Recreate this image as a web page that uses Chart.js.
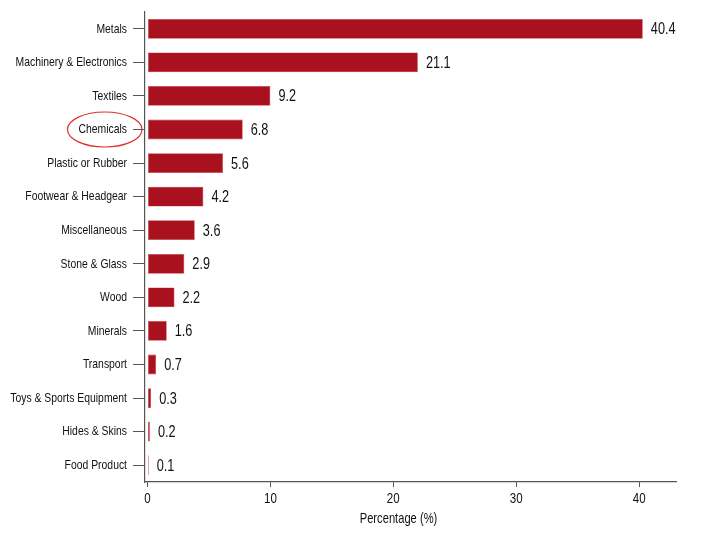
<!DOCTYPE html>
<html>
<head>
<meta charset="utf-8">
<script src="https://cdn.jsdelivr.net/npm/chart.js@4.4.0/dist/chart.umd.min.js"></script>
<style>
  html, body { margin: 0; padding: 0; background: #fff; }
  #wrap { width: 704px; height: 535px; }
</style>
</head>
<body>
<div id="wrap"><canvas id="chart"></canvas></div>
<script>
// Data
const categories = [
  'Metals', 'Machinery & Electronics', 'Textiles', 'Chemicals',
  'Plastic or Rubber', 'Footwear & Headgear', 'Miscellaneous',
  'Stone & Glass', 'Wood', 'Minerals', 'Transport',
  'Toys & Sports Equipment', 'Hides & Skins', 'Food Product'
];
// numbers printed next to the bars
const shares = [40.4, 21.1, 9.2, 6.8, 5.6, 4.2, 3.6, 2.9, 2.2, 1.6, 0.7, 0.3, 0.2, 0.1];
// bar lengths as drawn (several bars run a bit past their printed number)
const barLengths = [40.3, 22.0, 10.0, 7.75, 6.15, 4.55, 3.85, 3.0, 2.2, 1.57, 0.71, 0.3, 0.2, 0.1];
const xTicks = [0, 10, 20, 30, 40];
const xTitle = 'Percentage (%)';
const circled = 'Chemicals';

const FONT = "'Liberation Sans', Arial, sans-serif";
const SX = 0.77; // narrow look of the original lettering
const BAR = '#a8111d';

// draw text squeezed horizontally
function narrowText(ctx, text, x, y, align, size) {
  ctx.save();
  ctx.font = size + 'px ' + FONT;
  ctx.fillStyle = '#111';
  ctx.textBaseline = 'middle';
  ctx.textAlign = align;
  ctx.translate(x, y);
  ctx.scale(SX, 1);
  ctx.fillText(text, 0, 0);
  ctx.restore();
}

// all the lettering: category labels, x tick labels, axis title, bar values
const lettering = {
  id: 'lettering',
  afterDraw(chart) {
    const ctx = chart.ctx;
    const xs = chart.scales.x, ys = chart.scales.y;
    categories.forEach((c, i) => {
      narrowText(ctx, c, ys.right - 18, ys.getPixelForValue(i), 'right', 13.5);
    });
    xTicks.forEach(v => {
      narrowText(ctx, String(v), xs.getPixelForValue(v), xs.top + 17, 'center', 15);
    });
    narrowText(ctx, xTitle, (xs.left + xs.right) / 2 - 12, xs.top + 37, 'center', 14.5);
    const meta = chart.getDatasetMeta(0);
    meta.data.forEach((bar, i) => {
      narrowText(ctx, shares[i].toFixed(1), bar.x + 8, bar.y + 1, 'left', 16.5);
    });

    // red ring round one category label
    const idx = categories.indexOf(circled);
    const cy = ys.getPixelForValue(idx);
    ctx.save();
    ctx.font = '13.5px ' + FONT;
    const w = ctx.measureText(circled).width * SX;
    const cx = ys.right - 18 - w / 2 + 2;
    ctx.strokeStyle = '#e0302a';
    ctx.lineWidth = 1.2;
    ctx.beginPath();
    ctx.ellipse(cx, cy, w / 2 + 13, 17.5, 0, 0, Math.PI * 2);
    ctx.stroke();
    ctx.restore();
  }
};

new Chart(document.getElementById('chart'), {
  type: 'bar',
  data: {
    labels: categories,
    datasets: [{
      data: barLengths,
      backgroundColor: BAR,
      borderColor: '#c9404a',
      borderWidth: 0.6,
      borderSkipped: false,
      barPercentage: 0.59,
      categoryPercentage: 1
    }]
  },
  options: {
    indexAxis: 'y',
    responsive: true,
    maintainAspectRatio: false,
    animation: false,
    layout: { padding: { top: 12, right: 28, left: 0, bottom: 0 } },
    plugins: {
      legend: { display: false },
      tooltip: { enabled: false }
    },
    scales: {
      x: {
        min: -0.2,
        max: 43,
        afterBuildTicks: (scale) => { scale.ticks = xTicks.map(v => ({ value: v })); },
        afterFit: (scale) => { scale.height = 53; },
        grid: { drawOnChartArea: false, drawTicks: true, tickLength: 5, color: '#555' },
        border: { display: true, color: '#555', width: 1.2 },
        ticks: { display: false }
      },
      y: {
        afterFit: (scale) => { scale.width = 145; },
        grid: { offset: false, drawOnChartArea: false, drawTicks: true, tickLength: 12, color: '#555' },
        border: { display: true, color: '#555', width: 1.2 },
        ticks: { display: false }
      }
    }
  },
  plugins: [lettering]
});
</script>
</body>
</html>
